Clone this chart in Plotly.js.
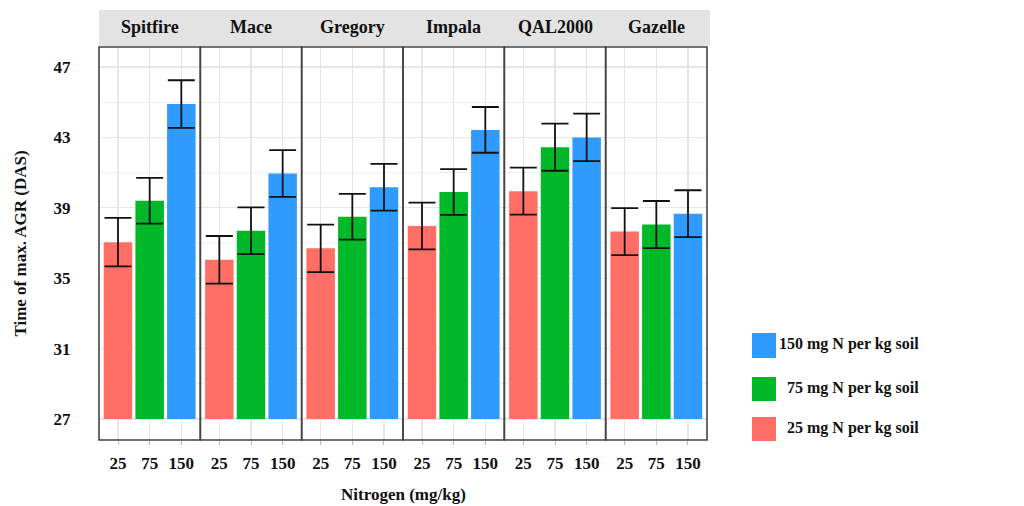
<!DOCTYPE html>
<html>
<head>
<meta charset="utf-8">
<script src="https://cdn.plot.ly/plotly-3.0.1.min.js"></script>
<style>html,body{margin:0;padding:0;background:#fff;}#chart{width:1024px;height:506px;}</style>
</head>
<body>
<div id="chart"></div>
<script>
// ---- data ----
const cultivars = ["Spitfire", "Mace", "Gregory", "Impala", "QAL2000", "Gazelle"];
const doses = ["25", "75", "150"];
const doseLabels = ["25 mg N per kg soil", "75 mg N per kg soil", "150 mg N per kg soil"];
const n25  = [37.05, 36.05, 36.70, 37.97, 39.95, 37.65];
const n75  = [39.40, 37.70, 38.50, 39.90, 42.45, 38.05];
const n150 = [44.90, 40.95, 40.17, 43.43, 43.00, 38.67];
const e25  = [1.38, 1.35, 1.35, 1.33, 1.34, 1.34];
const e75  = [1.30, 1.33, 1.30, 1.30, 1.34, 1.34];
const e150 = [1.35, 1.33, 1.33, 1.30, 1.35, 1.33];
const yTicks = [27, 31, 35, 39, 43, 47];
const yMinor = [29, 33, 37, 41, 45];
const barBase = 27;

// ---- styling ----
const colors = ["#FF6F65", "#00B828", "#2F9BFF"];
const FONT = "Liberation Serif, Times New Roman, serif";
const means = [n25, n75, n150];
const errs = [e25, e75, e150];

const M = {l: 99, r: 317, t: 47, b: 66};
const W = 1024 - M.l - M.r, H = 506 - M.t - M.b;
const px = x => (x - M.l) / W;
const py = y => (506 - M.b - y) / H;

const traces = [];
const layout = {
  width: 1024, height: 506,
  margin: M,
  paper_bgcolor: "#fff", plot_bgcolor: "#fff",
  barmode: "overlay",
  showlegend: false,
  font: {family: FONT, color: "#111", size: 17, weight: "bold"},
  yaxis: {
    range: [25.81, 48.14],
    tickvals: yTicks,
    ticktext: yTicks.map(String),
    ticks: "outside", ticklen: 24, tickcolor: "rgba(0,0,0,0)",
    showgrid: true, gridcolor: "#e6e6e6", gridwidth: 1.2,
    minor: {tickvals: yMinor, showgrid: true, gridcolor: "#eeeeee", gridwidth: 1, ticks: ""},
    zeroline: false, showline: false,
    tickfont: {family: FONT, size: 17, color: "#111", weight: "bold"},
    title: {text: "Time of max. AGR (DAS)", font: {family: FONT, size: 17, color: "#111", weight: "bold"}, standoff: 22},
    fixedrange: true
  },
  shapes: [],
  annotations: []
};

// strip background
layout.shapes.push({type: "rect", xref: "paper", yref: "paper", x0: 0, x1: px(710), y0: py(46), y1: py(10),
  fillcolor: "#e3e3e3", line: {width: 0}, layer: "below"});

cultivars.forEach((c, i) => {
  const ax = i === 0 ? "x" : "x" + (i + 1);
  const axName = i === 0 ? "xaxis" : "xaxis" + (i + 1);
  layout[axName] = {
    domain: [i / 6, (i + 1) / 6],
    anchor: "y",
    type: "category",
    categoryorder: "array", categoryarray: doses,
    range: [-0.6, 2.6],
    showgrid: true, gridcolor: "#e6e6e6", gridwidth: 1.2,
    zeroline: false, showline: false,
    ticks: "outside", ticklen: 4, tickcolor: "#bbbbbb", tickwidth: 1,
    ticklabelstandoff: 4,
    tickfont: {family: FONT, size: 17, color: "#111", weight: "bold"},
    fixedrange: true
  };
  doses.forEach((d, j) => {
    traces.push({
      type: "bar",
      name: doseLabels[j],
      x: [d],
      y: [means[j][i] - barBase],
      base: barBase,
      width: 0.9,
      xaxis: ax, yaxis: "y",
      marker: {color: colors[j], line: {width: 0}},
      error_y: {type: "data", array: [errs[j][i]], visible: true, color: "#111", thickness: 1.8, width: 13.5},
      customdata: [means[j][i]],
      hovertemplate: c + " %{x}: %{customdata}<extra></extra>",
      showlegend: false
    });
  });
  // panel border
  layout.shapes.push({type: "rect", xref: ax + " domain", yref: "y domain", x0: 0, x1: 1, y0: 0, y1: 1,
    line: {color: "#444", width: 1.6}, fillcolor: "rgba(0,0,0,0)", layer: "above"});
  // strip label
  layout.annotations.push({text: c, xref: "paper", yref: "paper", x: (i + 0.5) / 6, y: py(27),
    xanchor: "center", yanchor: "middle", showarrow: false,
    font: {family: FONT, size: 18, color: "#111", weight: "bold"}});
});

// x axis title
layout.annotations.push({text: "Nitrogen (mg/kg)", xref: "paper", yref: "paper", x: 0.5, y: py(494),
  xanchor: "center", yanchor: "middle", showarrow: false,
  font: {family: FONT, size: 17, color: "#111", weight: "bold"}});

// legend (150 top, 25 bottom)
const keyTops = [417, 377, 333];
const keyBots = [441, 401, 358];
[2, 1, 0].forEach(j => {
  layout.shapes.push({type: "rect", xref: "paper", yref: "paper",
    x0: px(752), x1: px(776), y0: py(keyBots[j]), y1: py(keyTops[j]),
    fillcolor: colors[j], line: {width: 0}});
  layout.annotations.push({text: doseLabels[j], xref: "paper", yref: "paper",
    x: px(921), y: py((keyTops[j] + keyBots[j]) / 2 - 1.5), xanchor: "right", yanchor: "middle", showarrow: false,
    font: {family: FONT, size: 16, color: "#111", weight: "bold"}});
});

Plotly.newPlot("chart", traces, layout, {displayModeBar: false, staticPlot: true});
</script>
</body>
</html>
